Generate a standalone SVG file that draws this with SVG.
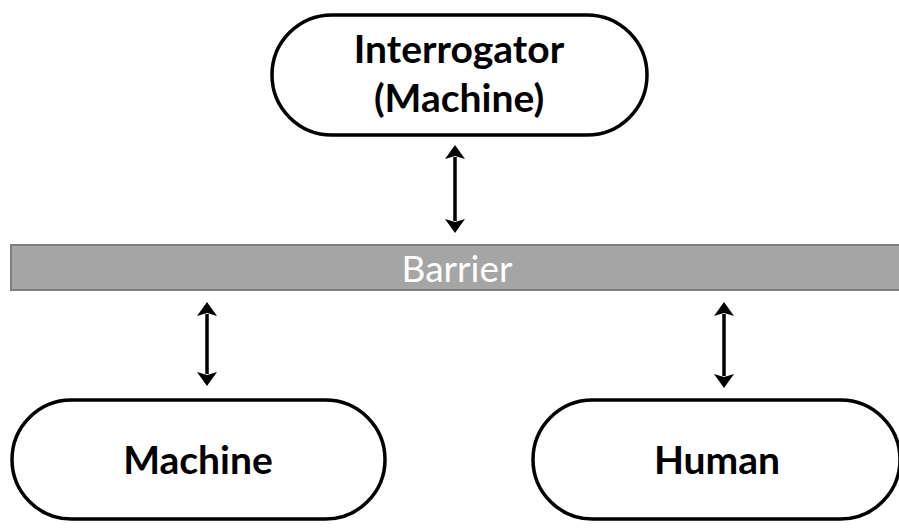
<svg xmlns="http://www.w3.org/2000/svg" width="899" height="529" viewBox="0 0 899 529">
  <style>
    .pill { fill: #ffffff; stroke: #000000; stroke-width: 3.5; }
    .label { font-family: Lato, "Open Sans", "Liberation Sans", sans-serif; font-weight: bold; font-size: 39px; fill: #000000; text-anchor: middle; }
    .bar { fill: #a5a5a5; stroke: #7f7f7f; stroke-width: 2; }
    .bar-label { font-family: Lato, "Open Sans", "Liberation Sans", sans-serif; font-size: 37px; fill: #ffffff; text-anchor: middle; }
    .link { stroke: #000000; stroke-width: 3.5; fill: none; marker-start: url(#head); marker-end: url(#head); }
  </style>
  <defs>
    <marker id="head" viewBox="0 0 14 20" refX="2" refY="10" markerWidth="14" markerHeight="20" markerUnits="userSpaceOnUse" orient="auto-start-reverse">
      <path d="M0,0 L14,10 L0,20 L3,10 Z" fill="#000000"/>
    </marker>
  </defs>

  <rect width="899" height="529" fill="#ffffff"/>

  <!-- barrier band across the page -->
  <g id="barrier">
    <rect class="bar" x="11" y="245" width="900" height="45"/>
    <text class="bar-label" x="457" y="282">Barrier</text>
  </g>

  <g id="interrogator">
    <rect class="pill" x="272" y="15" width="375" height="120" rx="60" ry="60"/>
    <text class="label" x="459" y="63">Interrogator</text>
    <text class="label" x="459" y="112">(Machine)</text>
  </g>

  <g id="machine">
    <rect class="pill" x="12" y="400" width="373" height="119" rx="59.5" ry="59.5"/>
    <text class="label" x="198" y="474">Machine</text>
  </g>

  <g id="human">
    <rect class="pill" x="533" y="400" width="367" height="119" rx="59.5" ry="59.5"/>
    <text class="label" x="717" y="474">Human</text>
  </g>

  <!-- two-way links through the barrier -->
  <g id="connectors">
    <line class="link" x1="455" y1="157" x2="455" y2="221"/>
    <line class="link" x1="207" y1="314" x2="207" y2="374"/>
    <line class="link" x1="724" y1="314" x2="724" y2="376"/>
  </g>
</svg>
